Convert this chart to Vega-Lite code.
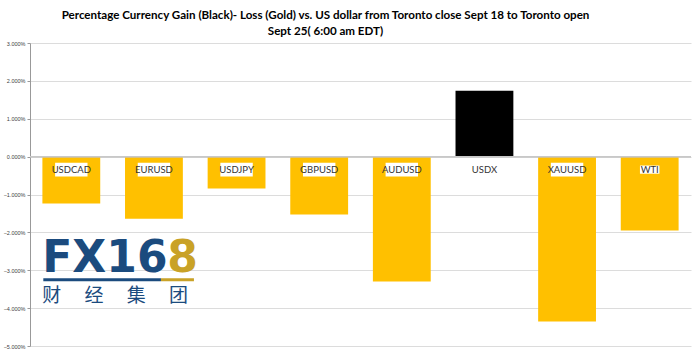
{
  "$schema": "https://vega.github.io/schema/vega-lite/v6.json",
  "width": 661,
  "height": 303,
  "autosize": {"type": "none"},
  "padding": {"left": 30, "top": 43, "right": 9, "bottom": 11},
  "background": "white",
  "title": {
    "text": ["Percentage Currency  Gain (Black)- Loss (Gold)  vs. US dollar  from Toronto close Sept 18 to Toronto  open", "Sept 25( 6:00 am EDT)"],
    "font": "Lato",
    "fontSize": 11.6,
    "fontWeight": "bold",
    "color": "#000000",
    "anchor": "middle",
    "dx": -35,
    "offset": 3,
    "lineHeight": 16
  },
  "data": {
    "values": [
      {"pair": "USDCAD", "change": -0.0124},
      {"pair": "EURUSD", "change": -0.0164},
      {"pair": "USDJPY", "change": -0.0084},
      {"pair": "GBPUSD", "change": -0.0153},
      {"pair": "AUDUSD", "change": -0.0330},
      {"pair": "USDX", "change": 0.0174},
      {"pair": "XAUUSD", "change": -0.0435},
      {"pair": "WTI", "change": -0.0195}
    ]
  },
  "encoding": {
    "x": {
      "field": "pair",
      "type": "nominal",
      "sort": null,
      "scale": {"type": "band", "paddingInner": 0.3, "paddingOuter": 0.15},
      "axis": null
    }
  },
  "layer": [
    {
      "mark": {"type": "bar", "stroke": null},
      "encoding": {
        "y": {
          "field": "change",
          "type": "quantitative",
          "scale": {"domain": [-0.05, 0.03], "nice": false, "zero": true},
          "axis": {
            "values": [-0.05, -0.04, -0.03, -0.02, -0.01, 0, 0.01, 0.02, 0.03],
            "tickCount": 20,
            "format": ".3%",
            "title": null,
            "labelFontSize": 5.5,
            "labelColor": "#404040",
            "labelFont": "Liberation Sans",
            "labelPadding": 2,
            "labelOverlap": false,
            "labelFlush": false,
            "tickSize": 3,
            "tickColor": "#999999",
            "domainColor": "#999999",
            "grid": true,
            "gridColor": "#dcdcdc",
            "gridWidth": 1
          }
        },
        "color": {
          "condition": {"test": "datum.change > 0", "value": "#000000"},
          "value": "#FFC000"
        }
      }
    },
    {
      "mark": {"type": "rule", "color": "#c8c8c8", "strokeWidth": 1},
      "encoding": {"y": {"datum": 0, "type": "quantitative", "title": null}, "x": null}
    },
    {
      "mark": {"type": "point", "shape": "M-1,-0.42H1V0.42H-1Z", "filled": true, "color": "white", "opacity": 1, "yOffset": 13},
      "encoding": {
        "y": {"datum": 0, "type": "quantitative", "title": null},
        "size": {
          "condition": {"test": "datum.pair === 'WTI'", "value": 380},
          "value": 1050
        }
      }
    },
    {
      "mark": {"type": "text", "font": "Lato", "fontSize": 9.5, "color": "#333333", "yOffset": 13, "baseline": "middle"},
      "encoding": {"y": {"datum": 0, "type": "quantitative", "title": null}, "text": {"field": "pair"}}
    },
    {
      "data": {"values": [{"logo": "FX16"}]},
      "mark": {"type": "text", "font": "DejaVu Sans", "fontWeight": "bold", "fontSize": 44, "color": "#1B4B7E", "align": "left", "baseline": "alphabetic", "dx": -29},
      "encoding": {"x": {"datum": "USDCAD"}, "y": {"datum": -0.0305, "type": "quantitative", "title": null}, "text": {"field": "logo"}}
    },
    {
      "data": {"values": [{"logo": "8"}]},
      "mark": {"type": "text", "font": "DejaVu Sans", "fontWeight": "bold", "fontSize": 44, "color": "#C9A227", "align": "left", "baseline": "alphabetic", "dx": 96},
      "encoding": {"x": {"datum": "USDCAD"}, "y": {"datum": -0.0305, "type": "quantitative", "title": null}, "text": {"field": "logo"}}
    },
    {
      "data": {"values": [{"logo": "line"}]},
      "mark": {"type": "rule", "color": "#1B4B7E", "strokeWidth": 3, "xOffset": -28, "x2Offset": 7},
      "encoding": {"x": {"datum": "USDCAD"}, "x2": {"datum": "EURUSD"}, "y": {"datum": -0.0325, "type": "quantitative", "title": null}}
    },
    {
      "data": {"values": [{"logo": "line"}]},
      "mark": {"type": "rule", "color": "#C9A227", "strokeWidth": 3, "xOffset": 7, "x2Offset": 40},
      "encoding": {"x": {"datum": "EURUSD"}, "x2": {"datum": "EURUSD"}, "y": {"datum": -0.0325, "type": "quantitative", "title": null}}
    },
    {
      "data": {"values": [{"logo": "财　 经　 集　 团"}]},
      "mark": {"type": "text", "font": "Noto Sans CJK SC", "fontSize": 19, "color": "#1B4B7E", "align": "left", "baseline": "alphabetic", "dx": -29},
      "encoding": {"x": {"datum": "USDCAD"}, "y": {"datum": -0.0385, "type": "quantitative", "title": null}, "text": {"field": "logo"}}
    }
  ],
  "config": {
    "view": {"stroke": null}
  }
}
